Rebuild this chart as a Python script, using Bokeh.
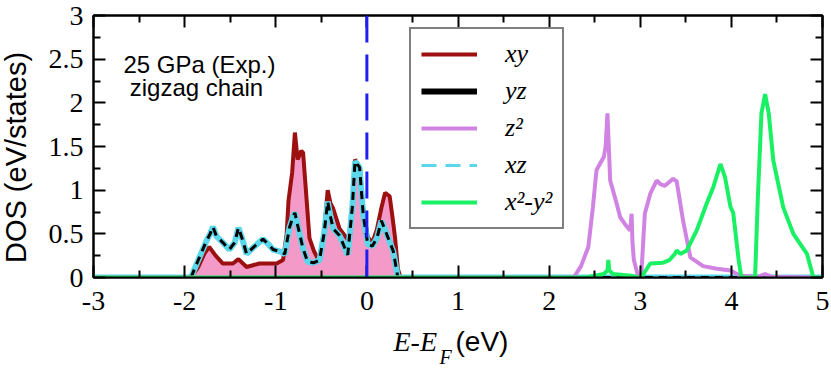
import math
from bokeh.plotting import figure
from bokeh.models import (FixedTicker, LinearAxis, Span, Label, Legend, LegendItem, Range1d)
from bokeh.layouts import row, column
from bokeh.embed import file_html
from bokeh.resources import INLINE

# ---------------- data ----------------
xy_e = [-3, -1.93, -1.85, -1.78, -1.73, -1.66, -1.58, -1.47, -1.41, -1.32, -1.18, -0.99,
        -0.92, -0.88, -0.86, -0.82, -0.79, -0.76, -0.72, -0.70, -0.66, -0.63, -0.58, -0.52,
        -0.47, -0.43, -0.40, -0.37, -0.30, -0.19, -0.15, -0.13, -0.10, -0.08, -0.04, 0.01,
        0.06, 0.11, 0.16, 0.20, 0.25, 0.28, 0.31, 0.34, 0.37, 5]
xy_dos = [0, 0, 0.12, 0.28, 0.35, 0.25, 0.16, 0.16, 0.21, 0.12, 0.16, 0.16,
          0.2, 0.5, 0.88, 1.2, 1.66, 1.35, 1.45, 1.43, 0.87, 0.45, 0.3, 0.18,
          0.5, 1.0, 0.85, 0.79, 0.56, 0.41, 0.9, 1.35, 1.3, 1.2, 0.78, 0.46,
          0.4, 0.55, 0.8, 0.97, 0.93, 0.7, 0.45, 0.1, 0, 0]

yz_e = [-3, -1.93, -1.85, -1.76, -1.72, -1.69, -1.65, -1.58, -1.51, -1.45, -1.41, -1.37,
        -1.32, -1.24, -1.14, -1.08, -1.03, -0.96, -0.90, -0.85, -0.81, -0.79, -0.76, -0.70,
        -0.65, -0.58, -0.52, -0.47, -0.43, -0.40, -0.37, -0.30, -0.21, -0.16, -0.13, -0.08,
        -0.04, 0.01, 0.06, 0.11, 0.16, 0.22, 0.29, 0.34, 5]
yz_dos = [0, 0, 0.2, 0.42, 0.5, 0.58, 0.47, 0.4, 0.32, 0.4, 0.57, 0.45,
          0.27, 0.35, 0.44, 0.38, 0.32, 0.3, 0.27, 0.57, 0.7, 0.74, 0.6, 0.33,
          0.18, 0.17, 0.2, 0.5, 0.87, 0.7, 0.56, 0.48, 0.26, 0.8, 1.33, 1.26,
          0.72, 0.38, 0.36, 0.45, 0.65, 0.49, 0.3, 0, 0]

xz_e = list(yz_e)
xz_dos = list(yz_dos)

z2_e = [-3, 2.27, 2.35, 2.43, 2.48, 2.52, 2.60, 2.62, 2.64, 2.67, 2.70, 2.74, 2.78, 2.84,
        2.89, 2.905, 2.915, 2.93, 2.98, 3.01, 3.05, 3.11, 3.18, 3.22, 3.27, 3.36, 3.40,
        3.47, 3.55, 3.69, 3.84, 3.99, 4.10, 4.30, 4.37, 4.44, 4.90, 5]
z2_dos = [0, 0, 0.13, 0.35, 0.8, 1.23, 1.38, 1.5, 1.88, 1.11, 1.0, 0.85, 0.69, 0.6,
          0.54, 0.73, 0.4, 0.2, 0, 0, 0.73, 0.96, 1.11, 1.07, 1.05, 1.13, 1.1,
          0.65, 0.23, 0.13, 0.1, 0.08, 0.02, 0.01, 0.04, 0.01, 0, 0]

x2y2_e = [-3, 2.40, 2.60, 2.64, 2.65, 2.66, 2.70, 2.90, 2.98, 3.01, 3.11, 3.25, 3.32,
          3.38, 3.40, 3.44, 3.51, 3.62, 3.73, 3.80, 3.88, 3.93, 3.99, 4.02, 4.08, 4.11,
          4.26, 4.29, 4.33, 4.37, 4.41, 4.46, 4.57, 4.68, 4.83, 4.90, 5]
x2y2_dos = [0, 0, 0.04, 0.08, 0.2, 0.08, 0.04, 0.02, 0, 0, 0.16, 0.17, 0.2,
            0.27, 0.31, 0.27, 0.31, 0.54, 0.85, 1.03, 1.3, 1.15, 0.81, 0.74, 0.2, 0,
            0, 0.9, 1.88, 2.1, 1.88, 1.34, 0.8, 0.5, 0.27, 0, 0]

x_ticks = [-3, -2, -1, 0, 1, 2, 3, 4, 5]
x_tick_labels = ["-3", "-2", "-1", "0", "1", "2", "3", "4", "5"]
x_minor = [-2.5, -1.5, -0.5, 0.5, 1.5, 2.5, 3.5, 4.5]
y_ticks = [0, 0.5, 1, 1.5, 2, 2.5, 3]
y_tick_labels = ["0", "0.5", "1", "1.5", "2", "2.5", "3"]
y_minor = [0.25, 0.75, 1.25, 1.75, 2.25, 2.75]

names = ["xy", "yz", "z\u00b2", "xz", "x\u00b2-y\u00b2"]
fermi = 0
NAN = float("nan")

# ---------------- style ----------------
RED = "#9c1010"
PINK = "#f49ac9"
VIOLET = "#d183e3"
CYAN = "#5ad7ea"
GREEN = "#1af064"
BLUE = "#1e1ef0"
SERIF = "'Liberation Serif', 'Times New Roman', 'DejaVu Serif', serif"
SANS = "Liberation Sans"
LEFT_W = 40      # strip holding the y title
BOTTOM_H = 43    # strip holding the x title
MAIN_H = 370 - BOTTOM_H

p = figure(width=831 - LEFT_W, height=MAIN_H, output_backend="svg",
           toolbar_location=None, x_range=Range1d(-3, 5), y_range=Range1d(0, 3),
           x_axis_location=None, y_axis_location=None,
           min_border_left=93 - LEFT_W, min_border_right=9, min_border_top=15,
           min_border_bottom=MAIN_H - 277)
p.background_fill_color = "white"
p.border_fill_color = "white"
p.outline_line_color = "black"
p.outline_line_width = 2
p.grid.visible = False

bottom = LinearAxis(ticker=FixedTicker(ticks=x_ticks, minor_ticks=x_minor),
                    major_label_overrides={t: l for t, l in zip(x_ticks, x_tick_labels)})
left = LinearAxis(ticker=FixedTicker(ticks=y_ticks, minor_ticks=y_minor),
                  major_label_overrides={t: l for t, l in zip(y_ticks, y_tick_labels)})
top = LinearAxis(ticker=FixedTicker(ticks=x_ticks, minor_ticks=x_minor))
right = LinearAxis(ticker=FixedTicker(ticks=y_ticks, minor_ticks=y_minor))
p.add_layout(bottom, "below")
p.add_layout(left, "left")
p.add_layout(top, "above")
p.add_layout(right, "right")

for ax in [bottom, left, top, right]:
    ax.axis_line_color = "black"
    ax.axis_line_width = 2
    ax.major_tick_in = 12
    ax.major_tick_out = 0
    ax.minor_tick_in = 7
    ax.minor_tick_out = 0
    ax.major_tick_line_width = 2
    ax.minor_tick_line_width = 2
    ax.major_tick_line_color = "black"
    ax.minor_tick_line_color = "black"
    ax.major_label_text_font = SERIF
    ax.major_label_text_font_size = "28px"
    ax.major_label_text_color = "black"

for ax in [top, right]:
    ax.major_label_text_color = None
    ax.major_label_text_font_size = "2px"
    ax.major_label_standoff = 0

bottom.major_label_standoff = 14
left.major_label_standoff = 10

# ---------------- data marks ----------------
p.varea(x=xy_e, y1=0, y2=xy_dos, fill_color=PINK)
r_xy = p.line(xy_e, xy_dos, line_color=RED, line_width=4)
p.line(xz_e, xz_dos, line_color=CYAN, line_width=6)
p.line(yz_e, yz_dos, line_color="black", line_width=3, line_dash="8 6")
r_z2 = p.line(z2_e, z2_dos, line_color=VIOLET, line_width=4)
r_x2 = p.line(x2y2_e, x2y2_dos, line_color=GREEN, line_width=4)

p.add_layout(Span(location=fermi, dimension="height", line_color=BLUE,
                  line_width=3, line_dash="27 12"))

# legend samples (no visible data of their own)
lg_yz = p.line([NAN, NAN], [NAN, NAN], line_color="black", line_width=6)
lg_xz = p.line([NAN, NAN], [NAN, NAN], line_color=CYAN, line_width=3, line_dash="15 9")

legend = Legend(items=[LegendItem(label=names[0], renderers=[r_xy]),
                       LegendItem(label=names[1], renderers=[lg_yz]),
                       LegendItem(label=names[2], renderers=[r_z2]),
                       LegendItem(label=names[3], renderers=[lg_xz]),
                       LegendItem(label=names[4], renderers=[r_x2])],
                location=(316, 48))
legend.label_text_font = SERIF
legend.label_text_font_style = "italic"
legend.label_text_font_size = "26px"
legend.label_text_color = "black"
legend.glyph_width = 56
legend.glyph_height = 20
legend.label_standoff = 28
legend.spacing = 7
legend.padding = 10
legend.margin = 0
legend.border_line_color = "black"
legend.border_line_width = 2
legend.background_fill_alpha = 1
p.add_layout(legend)

# ---------------- text inside the frame ----------------
p.add_layout(Label(x=106, y=213, x_units="screen", y_units="screen", text="25 GPa (Exp.)",
                   text_font=SANS, text_font_size="24px", text_align="center",
                   text_baseline="alphabetic", text_color="black"))
p.add_layout(Label(x=103, y=190, x_units="screen", y_units="screen", text="zigzag chain",
                   text_font=SANS, text_font_size="24px", text_align="center",
                   text_baseline="alphabetic", text_color="black"))

# ---------------- y title strip ----------------
qL = figure(width=LEFT_W, height=370, output_backend="svg", toolbar_location=None,
            x_axis_type=None, y_axis_type=None, min_border=0)
qL.outline_line_color = None
qL.grid.visible = False
qL.add_layout(Label(x=15, y=213, x_units="screen", y_units="screen", text="DOS (eV/states)",
                    text_font=SANS, text_font_size="29px", text_align="center",
                    text_baseline="middle", angle=math.pi / 2, text_color="black"))

# ---------------- x title strip (its frame lines up with the main frame) ----------------
qB = figure(width=831 - LEFT_W, height=BOTTOM_H, output_backend="svg", toolbar_location=None,
            x_axis_type=None, y_axis_type=None, min_border=0,
            min_border_left=93 - LEFT_W, min_border_right=9)
qB.outline_line_color = None
qB.grid.visible = False
qB.add_layout(Label(x=300, y=29, x_units="screen", y_units="screen", text="E-E",
                    text_font=SERIF, text_font_style="italic", text_font_size="28px",
                    text_baseline="alphabetic", text_color="black"))
qB.add_layout(Label(x=346, y=14, x_units="screen", y_units="screen", text="F",
                    text_font=SERIF, text_font_style="italic", text_font_size="20px",
                    text_baseline="alphabetic", text_color="black"))
qB.add_layout(Label(x=362, y=29, x_units="screen", y_units="screen", text="(eV)",
                    text_font=SANS, text_font_size="28px",
                    text_baseline="alphabetic", text_color="black"))

layout = row(qL, column(p, qB, spacing=0), spacing=0)
open("out.html", "w").write(file_html(layout, INLINE))
